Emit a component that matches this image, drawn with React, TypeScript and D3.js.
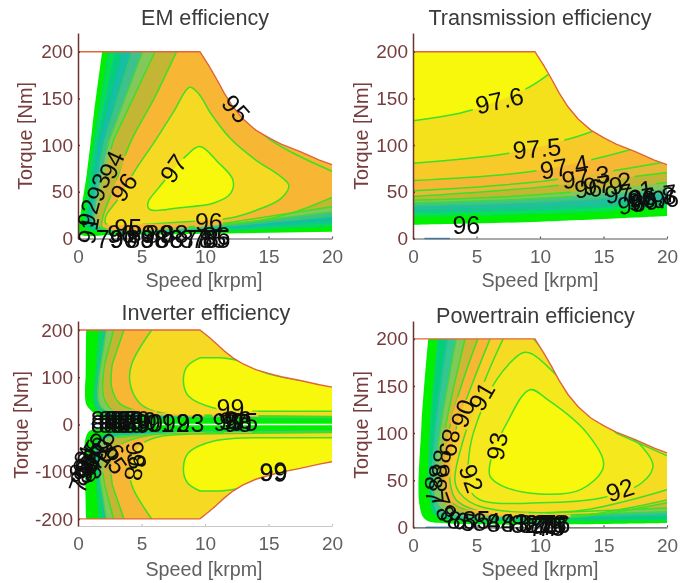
import React, { useEffect, useRef } from "react";
import * as d3 from "d3";

type Pt = [number, number];
type Label = [number, number, string, number];

const speedTicks = [0, 5, 10, 15, 20];
const torqueTicks = [0, 50, 100, 150, 200];
const signedTorqueTicks = [-200, -100, 0, 100, 200];

// torque limit of the drive, speed [krpm] / torque [Nm]
const limitCurve: Pt[] = [[0, 200], [9.6, 200], [10.3, 185], [10.9, 171], [11.5, 156], [12.2, 141], [13, 128], [14, 116], [15, 108], [16, 101], [17.5, 93], [19, 84], [20, 79]];
const limitCurveLower: Pt[] = limitCurve.map(([s, t]) => [s, -t]);

// EM efficiency regions, lowest level first
const emBase: Pt[] = [[2.2, 230], [1.3, 140], [0.7, 70], [0.15, 20], [0.1, 5], [3, 4], [10, 5], [21, 7.5], [21, 230]];
const emFan1: Pt[] = [[2.8, 230], [1.3, 105], [0.6, 35], [0.5, 12], [3, 6.5], [10, 8], [21, 14], [21, 230]];
const emFan2: Pt[] = [[3.4, 230], [1.5, 105], [0.8, 35], [0.7, 13], [3, 7], [10, 9], [21, 17.5], [21, 230]];
const emFan3: Pt[] = [[4.1, 230], [1.74, 105], [1.0, 35], [0.9, 14], [3, 7.5], [10, 10], [21, 21.5], [21, 230]];
const emFan4: Pt[] = [[4.9, 230], [2.1, 105], [1.2, 35], [1.2, 15], [3, 8], [10, 11], [21, 25], [21, 230]];
const emFan5: Pt[] = [[5.9, 230], [2.45, 105], [1.4, 35], [1.4, 15], [3, 8.5], [10, 12], [21, 30], [21, 230]];
const emFan6: Pt[] = [[7.1, 230], [2.78, 105], [1.6, 35], [1.6, 14], [3, 8.7], [10, 13], [21, 36], [21, 230]];
const emOrange: Pt[] = [[8.9, 230], [7.76, 200], [6, 150], [4.2, 105], [2.7, 50], [2, 25], [1.9, 12], [3, 9], [7, 11], [12, 16], [14.6, 20], [17.2, 29], [20, 44], [21, 50], [21, 230]];
const emYellow: Pt[] = [[8.8, 162], [7.5, 135], [6.1, 105], [4.6, 75], [3.2, 43], [2.2, 24], [2.2, 15.7], [3, 14.5], [8.5, 18], [12, 22], [14, 30], [16, 43], [16.6, 57], [15.8, 68], [14, 84], [12, 107], [10.5, 133], [9.5, 155]];
const emPeak: Pt[] = [[9.6, 98.4], [11, 82], [12.2, 62.7], [12, 48], [10.7, 38], [8, 33], [5.66, 31], [5.5, 38], [6.4, 55], [8.55, 89]];
const emLimitLine: Pt[] = [[9.8, 200], [11, 175], [12.3, 145], [13.6, 124], [15, 107], [17, 91], [20, 72]];
const emFills = ["#00f000", "#00e448", "#06d078", "#14bfa0", "#40c08c", "#84c85c", "#c4b636", "#f8b634", "#f5d922", "#f8f80e"];
const emLines = ["none", "#10d070", "#10c890", "#18b8b0", "#30cc70", "#40d840", "#3ce024", "#3ce024", "#3ce024", "#3ce024"];
const emLabels: Label[] = [
  [12.45, 139, "95", 48], [7.5, 75, "97", -55], [3.6, 55, "96", -55], [2.63, 79, "94", -65], [1.6, 55, "93", -70],
  [0.8, 27, "92", -75], [0.8, 9, "91", -80], [10.3, 18, "96", 0], [3.95, 11, "95", 0], [3.4, 5, "90", 0], [5, 5, "89", 0],
  [6.4, 5, "89", 0], [7.6, 5, "88", 0], [2.5, -1, "79", 0], [3.6, -1, "90", 0], [4.9, 0, "89", 0], [6, 0, "88", 0],
  [7.2, 0, "88", 0], [8.3, 0, "87", 0], [9.1, 0, "87", 0], [10, -1, "78", 0], [10.6, -1, "85", 0], [10.9, 3, "86", 0], [10.9, -1, "85", 0],
];

// transmission efficiency regions
const trBase: Pt[] = [[-1, 14.6], [0, 14.6], [10, 18], [20, 24], [21, 25], [21, 230], [-1, 230]];
const trB1: Pt[] = [[-1, 24], [0, 24], [10, 27], [20, 33], [21, 34], [21, 230], [-1, 230]];
const trB2: Pt[] = [[-1, 28], [0, 28], [10, 31], [20, 37], [21, 38], [21, 230], [-1, 230]];
const trB3: Pt[] = [[-1, 32], [0, 32], [10, 35], [20, 42], [21, 43], [21, 230], [-1, 230]];
const trB4: Pt[] = [[-1, 35], [0, 35], [10, 39], [20, 48], [21, 49], [21, 230], [-1, 230]];
const trB5: Pt[] = [[-1, 38], [0, 38], [10, 43], [20, 53], [21, 54], [21, 230], [-1, 230]];
const trB6: Pt[] = [[-1, 41], [0, 41], [10, 47], [20, 60], [21, 62], [21, 230], [-1, 230]];
const trB7: Pt[] = [[-1, 45], [0, 45], [10, 55], [20, 70.6], [21, 73], [21, 230], [-1, 230]];
const trB8: Pt[] = [[-1, 51], [0, 51], [10, 61], [19.5, 81], [21, 86], [21, 230], [-1, 230]];
const trB9: Pt[] = [[-1, 62], [0, 62], [10, 73], [17.1, 95], [21, 112], [21, 230], [-1, 230]];
const trB10: Pt[] = [[-1, 80], [0, 80.6], [7.4, 91], [12.4, 107], [14.6, 117], [21, 160], [21, 230], [-1, 230]];
const trB11: Pt[] = [[-1, 124], [0, 126], [4.5, 137], [9, 161], [10.7, 176], [13, 200], [21, 230], [-1, 230]];
const trFills = ["#00f000", "#00e650", "#14c888", "#28bca0", "#44c48a", "#84c85c", "#c4b636", "#e8b838", "#f8b634", "#f7ca2c", "#f5e01f", "#f8f80e"];
const trLines = ["none", "#10d860", "#14c890", "#20c0a0", "#30cc70", "#40d840", "#3ce024", "#3ce024", "#3ce024", "#3ce024", "#3ce024", "#3ce024"];
const trLabels: Label[] = [
  [6.8, 148, "97.6", -13], [9.76, 96.6, "97.5", -5], [11.9, 77, "97.4", -10], [13.6, 66, "97.3", -8], [15.3, 59, "97.2", -8],
  [17, 50, "97.1", -8], [14.6, 55, "96.9", -6], [18, 44, "97", -10], [18, 39, "96.9", -10], [18.8, 43, "96.8", -10],
  [18.9, 46, "96.7", -8], [19, 41, "96.6", -8], [4.2, 14.6, "96", 0],
];

// inverter efficiency regions, upper half (the lower half mirrors it)
const invBaseUp: Pt[] = [[0.65, 230], [0.6, 100], [0.62, 45], [1, 30], [1.5, 20], [2.2, 12], [3.5, 1.5], [21, 1.5], [21, 230]];
const invBaseLow: Pt[] = [[0.65, -230], [0.55, -100], [0.55, -35], [0.9, -14], [2, -8], [3.5, -1.5], [21, -1.5], [21, -230]];
const invB1: Pt[] = [[1.75, 230], [1.4, 100], [1.3, 45], [1.7, 26], [2.7, 16], [8, 14], [21, 13.5], [21, 230]];
const invB2: Pt[] = [[2.15, 230], [1.55, 100], [1.45, 48], [1.9, 28], [3, 20], [8, 15], [21, 14], [21, 230]];
const invB3: Pt[] = [[2.4, 230], [1.73, 115], [1.6, 50], [2, 32], [3.5, 24], [8, 16], [21, 14.5], [21, 230]];
const invB4: Pt[] = [[3.1, 230], [2.1, 128], [2, 60], [2.65, 32], [4.5, 24], [8, 17], [21, 15], [21, 230]];
const invB5: Pt[] = [[4, 230], [2.7, 128], [2.65, 79], [3.3, 44], [5.4, 24], [8, 18], [21, 15.5], [21, 230]];
const invB6: Pt[] = [[6.3, 230], [5.8, 200], [4.23, 128], [4.1, 87], [4.9, 44], [6.2, 27], [9, 20], [21, 16.5], [21, 230]];
const invPeak: Pt[] = [[9.6, 141], [8.6, 123], [8.3, 92], [8.7, 60], [10.7, 35], [14.9, 28], [21, 28], [21, 100], [18, 92], [14.9, 108], [12.6, 135], [11.2, 141]];
const invFills = ["#00f000", "#00e050", "#14bfa0", "#84c85c", "#c4b636", "#f8b634", "#f5d922", "#f8f80e"];
const invLines = ["none", "#10d070", "#20c0a0", "#40d840", "#3ce024", "#3ce024", "#3ce024", "#3ce024"];
const invLabels: Label[] = [
  [2.1, 10, "85", 0], [2.1, 0, "84", 0], [2.7, 10, "86", 0], [2.7, 0, "80", 0], [3.1, 10, "88", 0], [3.1, 0, "86", 0],
  [3.6, 10, "87", 0], [3.6, 0, "88", 0], [4.1, 10, "88", 0], [4.1, 0, "88", 0], [4.6, 10, "89", 0], [4.6, 0, "89", 0], [5.1, 8, "90", 0],
  [5.6, 3, "90", 0], [6.5, 3, "91", 0], [7.7, 3, "92", 0], [8.85, 3, "93", 0],
  [12, 35, "99", 0], [11.7, 7, "98", -5], [12.2, 7, "97", 5], [12.6, 10, "96", 0], [13.1, 6, "95", 0], [12.6, 3, "98", 0],
  [0.2, -85, "80", -70], [0.3, -100, "82", -70], [0.5, -75, "84", -70], [0.6, -95, "86", -65], [0.8, -80, "88", -60],
  [0.9, -62, "85", -60], [1.0, -92, "87", -60], [1.3, -70, "89", -55], [1.4, -55, "90", -55], [1.5, -85, "91", -55],
  [0.2, -115, "79", -70], [1.7, -45, "92", 40], [2.6, -47, "96", 50], [2.8, -75, "95", 55], [4.6, -65, "98", 80], [4.5, -90, "98", 100], [15.4, -99, "99", -4], [15.4, -101, "99", 2],
];

// powertrain efficiency regions
const ptBase: Pt[] = [[1.3, 230], [1.2, 200], [0.66, 107], [0.53, 22], [1, 8], [2.9, 4], [20, 4.6], [21, 4.6], [21, 230]];
const ptB1: Pt[] = [[2.2, 230], [2, 200], [1.35, 100], [1.3, 35], [1.8, 13], [5, 6.5], [21, 8], [21, 230]];
const ptB2: Pt[] = [[3, 230], [2.7, 200], [1.7, 100], [1.5, 35], [2, 15], [5, 8.5], [21, 13], [21, 230]];
const ptB3: Pt[] = [[3.8, 230], [3.4, 200], [1.95, 85], [1.7, 36], [2.4, 18], [5, 10], [21, 17], [21, 230]];
const ptB4: Pt[] = [[4.5, 230], [4.1, 200], [2.4, 93], [2.2, 47], [2.6, 24], [5.3, 12.5], [21, 21], [21, 230]];
const ptB5: Pt[] = [[5.6, 230], [5.1, 200], [3.7, 146], [2.8, 100], [2.5, 50], [3, 27], [5.3, 15], [12.7, 11], [20, 26], [21, 28], [21, 230]];
const ptB6: Pt[] = [[6.7, 230], [6.07, 200], [4.6, 150], [3.3, 100], [2.9, 50], [3.4, 29], [5.3, 17], [12.7, 12], [20, 29], [21, 32], [21, 230]];
const ptB7: Pt[] = [[7.8, 230], [7.1, 200], [5.9, 164], [3.9, 90], [3.3, 50], [3.7, 36], [5.3, 22], [12.7, 17], [20, 40], [21, 44], [21, 70], [16, 100], [12.7, 148], [9.5, 200], [9, 230]];
const ptB8: Pt[] = [[8.6, 185], [6.6, 157], [4.75, 100], [4.35, 68], [4.4, 42], [5.3, 29], [10, 26], [14.8, 31], [18, 47], [18.9, 65], [18, 86], [15.3, 112.6], [12.7, 142.7], [10, 178], [9.2, 185]];
const ptPeak: Pt[] = [[9.2, 146], [7.4, 111], [6.07, 68], [6.07, 54], [7.1, 43.5], [10, 35.4], [13.2, 40], [15, 65], [13.7, 100], [10.6, 135.6]];
const ptFills = ["#00f000", "#06d078", "#30c890", "#84c85c", "#d0b634", "#f8b634", "#f7ce2a", "#f5dc24", "#f5e81e", "#f8f80e"];
const ptLines = ["none", "#10d070", "#20c0a0", "#40d840", "#3ce024", "#3ce024", "#3ce024", "#3ce024", "#3ce024", "#3ce024"];
const ptLabels: Label[] = [
  [5.4, 139, "91", -60], [3.9, 121, "90", -70], [2.9, 89.6, "89", 100], [2.2, 68, "88", -85], [2, 52, "88", -90], [1.7, 40, "87", 85],
  [2.4, 22, "78", 70], [6.6, 86, "93", -80], [4.6, 52, "92", 70], [16.3, 40, "92", -18], [3.3, 11, "86", 30], [3.8, 7, "85", 10], [5, 8, "85", 0],
  [5.8, 6, "84", 0], [6.9, 5, "84", 0], [8, 5, "83", 0], [8.8, 4, "82", 0], [9.4, 4, "82", 0], [9.9, 3, "81", 0], [10.3, 2, "80", 0],
  [10.7, 1, "79", 0], [11, 3, "78", 0], [11.2, 1, "77", 0], [11.3, 3, "76", 0], [10.9, 0, "75", 0], [10.2, 0, "74", 0],
];

// short low-level contours at the zero torque line
const trBlue: Pt[] = [[0.9, 0], [2.9, 0]];
const ptBlue: Pt[] = [[1, 0], [3, 0]];
const ptBlue2: Pt[] = [[9.6, 5], [12.3, 4]];
const invBlue: Pt[] = [[1, 1], [2.2, 1]];

type PanelProps = {
  id: string;
  title: string;
  titleX: number;
  titleY: number;
  left: number;
  top: number;
  bottom: number;
  domain: [number, number];
  ticks: number[];
  axisY: number;
  labelY: number;
  labelX: number;
  ylabelX: number;
  ylabelY: number;
  regions: Pt[][];
  fills: string[];
  lines: string[];
  extraLines?: Pt[][];
  labels: Label[];
  clip: Pt[];
  limits: Pt[][];
  blue?: Pt[][];
};

const W = 254;
const tickFont = "Liberation Sans, Arial, sans-serif";

// points past the plot edges only close a region, they get no smoothing
const isFar = (d: Pt) => d[0] >= 21 || d[0] < 0 || Math.abs(d[1]) >= 230;

function Panel(p: PanelProps) {
  const xRef = useRef<SVGGElement>(null);
  const yRef = useRef<SVGGElement>(null);
  const x = d3.scaleLinear().domain([0, 20]).range([p.left, p.left + W]);
  const y = d3.scaleLinear().domain(p.domain).range([p.bottom, p.top]);
  const closed = d3.line<Pt>().x(d => x(d[0])).y(d => y(d[1])).curve(d3.curveCatmullRomClosed.alpha(0.5));
  const open = d3.line<Pt>().x(d => x(d[0])).y(d => y(d[1])).curve(d3.curveCatmullRom.alpha(0.5));
  const straight = d3.line<Pt>().x(d => x(d[0])).y(d => y(d[1]));

  const regionPath = (r: Pt[]) => {
    if (!r.some(isFar)) return closed(r)!;
    let path = "";
    let run: Pt[] = [];
    const flush = () => {
      if (run.length) {
        const seg = open(run)!;
        path += path ? "L" + seg.slice(1) : seg;
      }
      run = [];
    };
    r.forEach(d => {
      if (isFar(d)) {
        flush();
        path += `${path ? "L" : "M"}${x(d[0])},${y(d[1])}`;
      } else run.push(d);
    });
    flush();
    return path + "Z";
  };

  useEffect(() => {
    const gx = d3.select(xRef.current!);
    gx.call(d3.axisBottom(x).tickValues(speedTicks).tickSizeInner(-2).tickSizeOuter(0).tickPadding(11) as any);
    gx.selectAll("text").attr("font-size", 19).attr("font-family", tickFont).attr("fill", "#606060");
    gx.selectAll("path,line").attr("stroke", p.id === "inv" ? "#c8c8c8" : "#555").attr("stroke-width", 1.2);
    const gy = d3.select(yRef.current!);
    gy.call(d3.axisLeft(y).tickValues(p.ticks).tickFormat((d: any) => String(d)).tickSizeInner(-2).tickSizeOuter(0).tickPadding(5) as any);
    gy.selectAll("text").attr("font-size", 19).attr("font-family", tickFont).attr("fill", "#743c3c");
    gy.selectAll("path,line").attr("stroke", "#6e3030").attr("stroke-width", 1.5);
  }, []);

  return (
    <g fontFamily={tickFont}>
      <defs>
        <clipPath id={`clip-${p.id}`}>
          <path d={straight(p.clip) + "Z"} />
        </clipPath>
        <mask id={`gap-${p.id}`} maskUnits="userSpaceOnUse" x={0} y={0} width={680} height={583}>
          <rect x={0} y={0} width={680} height={583} fill="white" />
          {p.labels.map((l, i) => (
            <rect key={i} x={-l[2].length * 7} y={-10} width={l[2].length * 14} height={20} fill="black"
              transform={`translate(${x(l[0])},${y(l[1])}) rotate(${l[3]})`} />
          ))}
        </mask>
      </defs>
      <g clipPath={`url(#clip-${p.id})`}>
        {p.regions.map((r, i) => (
          <path key={i} d={regionPath(r)} fill={p.fills[i]} />
        ))}
        <g mask={`url(#gap-${p.id})`} fill="none" strokeWidth={1.5}>
          {p.regions.map((r, i) => (
            <path key={i} d={regionPath(r)} stroke={p.lines[i]} />
          ))}
          {(p.extraLines || []).map((r, i) => (
            <path key={i} d={open(r)!} stroke="#3ce024" />
          ))}
        </g>
      </g>
      {(p.blue || []).map((r, i) => (
        <path key={i} d={straight(r)!} stroke="#3a94dc" strokeWidth={1.5} fill="none" />
      ))}
      {p.limits.map((r, i) => (
        <path key={i} d={straight(r)!} stroke="#e2643c" strokeWidth={1.4} fill="none" />
      ))}
      <g ref={xRef} transform={`translate(0,${p.axisY})`} />
      <g ref={yRef} transform={`translate(${p.left},0)`} />
      {p.labels.map((l, i) => (
        <text key={i} fontSize={25} fill="#111" textAnchor="middle" dominantBaseline="central"
          transform={`translate(${x(l[0])},${y(l[1])}) rotate(${l[3]})`}>{l[2]}</text>
      ))}
      <text x={p.titleX} y={p.titleY} fontSize={21.6} fill="#3a3a3a" textAnchor="middle">{p.title}</text>
      <text x={p.labelX} y={p.labelY} fontSize={19.7} fill="#606060" textAnchor="middle">Speed [krpm]</text>
      <text fontSize={19.8} fill="#743c3c" textAnchor="middle"
        transform={`translate(${p.ylabelX},${p.ylabelY}) rotate(-90)`}>Torque [Nm]</text>
    </g>
  );
}

export default function App() {
  const upper: Pt[] = [[0, 0], ...limitCurve, [20, 0]];
  const both: Pt[] = [...limitCurve, ...limitCurveLower.slice().reverse()];
  const negate = (r: Pt[]): Pt[] => r.map(([s, t]) => [s, -t]);
  const invUp = [invB1, invB2, invB3, invB4, invB5, invB6, invPeak];
  const invRegions: Pt[][] = [invBaseUp, invBaseLow];
  const invFillsAll: string[] = [invFills[0], invFills[0]];
  const invLinesAll: string[] = ["none", "none"];
  invUp.forEach((r, i) => {
    invRegions.push(r, negate(r));
    invFillsAll.push(invFills[i + 1], invFills[i + 1]);
    invLinesAll.push(invLines[i + 1], invLines[i + 1]);
  });
  return (
    <svg width={680} height={583} style={{ position: "absolute", left: 0, top: 0, background: "#fff" }}>
      <defs>
        <filter id="soft" x="0" y="0" width="680" height="583" filterUnits="userSpaceOnUse">
          <feGaussianBlur stdDeviation={0.7} />
        </filter>
      </defs>
      <g filter="url(#soft)">
        <rect x={0} y={0} width={680} height={583} fill="#fff" />
        <Panel id="em" title="EM efficiency" titleX={205} titleY={25} left={78} top={33} bottom={238.5} domain={[0, 220]} ticks={torqueTicks}
          axisY={238.5} labelX={204} labelY={287} ylabelX={32} ylabelY={136}
          regions={[emBase, emFan1, emFan2, emFan3, emFan4, emFan5, emFan6, emOrange, emYellow, emPeak]}
          fills={emFills} lines={emLines} extraLines={[emLimitLine]}
          labels={emLabels} clip={upper} limits={[limitCurve]} />
        <Panel id="tr" title="Transmission efficiency" titleX={540} titleY={25} left={413} top={33} bottom={238.5} domain={[0, 220]} ticks={torqueTicks}
          axisY={238.5} labelX={540} labelY={287} ylabelX={368} ylabelY={136}
          regions={[trBase, trB1, trB2, trB3, trB4, trB5, trB6, trB7, trB8, trB9, trB10, trB11]}
          fills={trFills} lines={trLines} labels={trLabels} clip={upper} limits={[limitCurve]} blue={[trBlue]} />
        <Panel id="inv" title="Inverter efficiency" titleX={206} titleY={320} left={78} top={321} bottom={526} domain={[-215, 219]} ticks={signedTorqueTicks}
          axisY={526} labelX={204} labelY={576} ylabelX={28} ylabelY={425}
          regions={invRegions} fills={invFillsAll} lines={invLinesAll}
          labels={invLabels} clip={both} limits={[limitCurve, limitCurveLower]} blue={[invBlue]} />
        <Panel id="pt" title="Powertrain efficiency" titleX={535.5} titleY={323} left={413} top={321} bottom={527.3} domain={[0, 219]} ticks={torqueTicks}
          axisY={527.3} labelX={540} labelY={576} ylabelX={368} ylabelY={425}
          regions={[ptBase, ptB1, ptB2, ptB3, ptB4, ptB5, ptB6, ptB7, ptB8, ptPeak]}
          fills={ptFills} lines={ptLines} labels={ptLabels} clip={upper} limits={[limitCurve]} blue={[ptBlue, ptBlue2]} />
      </g>
    </svg>
  );
}
